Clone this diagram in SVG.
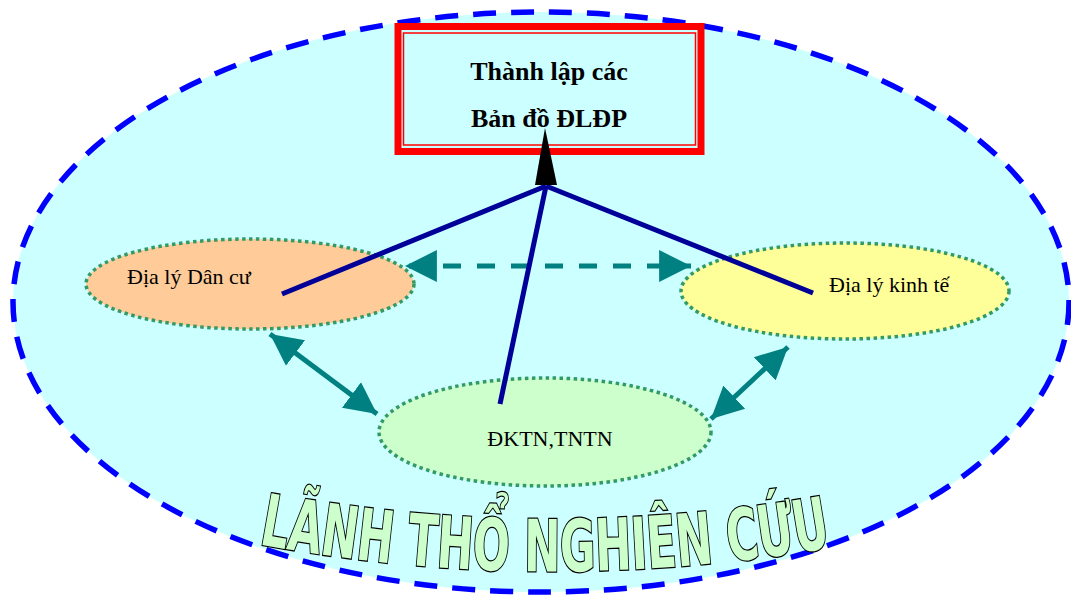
<svg xmlns="http://www.w3.org/2000/svg" width="1071" height="597" viewBox="0 0 1071 597">
<defs>
<style>
.node{stroke:#339966;stroke-width:3.5;stroke-dasharray:3.5 3.5}
.lbl{font-family:"Liberation Serif","Times New Roman",serif;font-size:22px;fill:#000}
.ttl{font-family:"Liberation Serif","Times New Roman",serif;font-size:26px;font-weight:bold;fill:#000}
.teal{stroke:#008080;stroke-width:5;fill:none}
.navy{stroke:#000099;stroke-width:5;fill:none;stroke-linecap:butt}
</style>
<marker id="ah" markerUnits="userSpaceOnUse" markerWidth="34" markerHeight="34" viewBox="0 0 32 32" refX="30" refY="16" orient="auto-start-reverse">
<path d="M0,1 L30,16 L0,31 Z" fill="#008080"/>
</marker>
</defs>
<rect width="1071" height="597" fill="#ffffff"/>
<g id="territory">
<ellipse cx="541" cy="302" rx="528" ry="290" fill="#ccffff" stroke="#0000ff" stroke-width="5.5" stroke-dasharray="23 15"/>
</g>
<g id="title-box">
<rect x="398" y="26.5" width="303" height="125" fill="#ccffff" stroke="#ff0000" stroke-width="7"/>
<rect x="403.5" y="33" width="292" height="112" fill="none" stroke="#ff0000" stroke-width="1.5"/>
<text class="ttl" x="549" y="80" text-anchor="middle">Thành lập các</text>
<text class="ttl" x="549" y="127" text-anchor="middle">Bản đồ ĐLĐP</text>
</g>
<g id="dan-cu">
<ellipse class="node" cx="250" cy="284" rx="164" ry="45" fill="#ffcc99"/>
<text class="lbl" x="127" y="284">Địa lý Dân cư</text>
</g>
<g id="kinh-te">
<ellipse class="node" cx="845" cy="291" rx="164" ry="48" fill="#ffff99"/>
<text class="lbl" x="829" y="292">Địa lý kinh tế</text>
</g>
<g id="dktn">
<ellipse class="node" cx="545" cy="432" rx="166" ry="54" fill="#ccffcc"/>
<text class="lbl" x="550" y="446" text-anchor="middle">ĐKTN,TNTN</text>
</g>
<g id="connectors">
<line class="teal" x1="405" y1="266" x2="691" y2="266" stroke-dasharray="18 16" stroke-dashoffset="-4" marker-start="url(#ah)" marker-end="url(#ah)"/>
<line class="teal" x1="270" y1="334" x2="377" y2="414" marker-start="url(#ah)" marker-end="url(#ah)"/>
<line class="teal" x1="788" y1="347" x2="711" y2="419" marker-start="url(#ah)" marker-end="url(#ah)"/>
<line class="navy" x1="546" y1="186" x2="282" y2="294"/>
<line class="navy" x1="546" y1="186" x2="813" y2="293"/>
<line class="navy" x1="546" y1="186" x2="500" y2="404"/>
<path d="M545,128 L557,185 L535,185 Z" fill="#000000"/>
</g>
<g id="territory-label">
<path id="arc" d="M 252 543 A 1614 1614 0 0 0 838 546" fill="none"/>
<text font-family="'DejaVu Sans Condensed','DejaVu Sans',sans-serif" font-weight="bold" font-size="72" fill="#ccffcc" stroke="#000" stroke-width="2.5" paint-order="stroke">
<textPath href="#arc" startOffset="50%" text-anchor="middle" textLength="576" lengthAdjust="spacingAndGlyphs">LÃNH THỔ NGHIÊN CỨU</textPath>
</text>
</g>
</svg>
